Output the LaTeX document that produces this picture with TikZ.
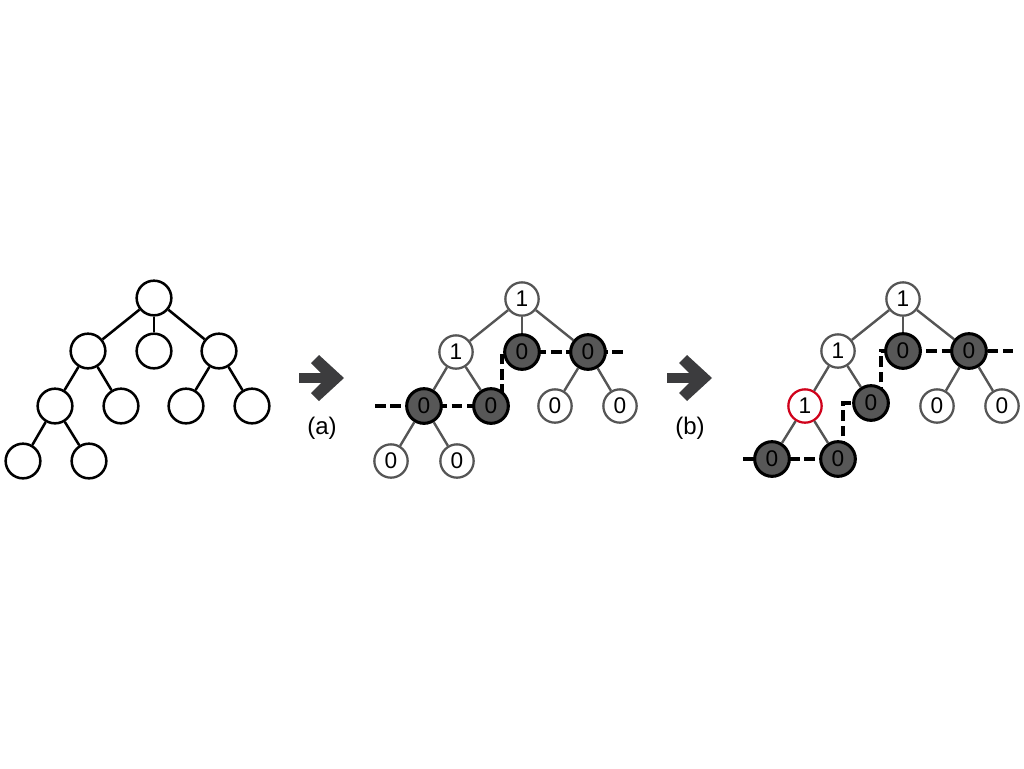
\documentclass[tikz,border=0pt]{standalone}
\usepackage{fontspec}
\setmainfont{Liberation Sans}
\usetikzlibrary{backgrounds}
\definecolor{edgegray}{HTML}{555555}
\definecolor{fillgray}{HTML}{575757}
\definecolor{arrowgray}{HTML}{3C3C3E}
\definecolor{flipred}{HTML}{D0021B}

\begin{document}
\begin{tikzpicture}[x=0.75pt, y=-0.75pt,
  knot/.style={circle, draw, line width=1.9pt, minimum size=26pt, inner sep=0pt},
  wnode/.style={circle, draw=edgegray, fill=white, line width=1.7pt, minimum size=25pt, inner sep=0pt, font=\fontsize{17}{17}\selectfont},
  gnode/.style={wnode, draw=black, fill=fillgray, line width=2.3pt, minimum size=26pt},
  rnode/.style={wnode, draw=flipred},
  branch/.style={draw=edgegray, line width=1.8pt},
  cutline/.style={draw=black, line width=2.6pt, dash pattern=on 8pt off 3.5pt},
  tag/.style={font=\fontsize{18}{18}\selectfont}]
\useasboundingbox (0,0) rectangle (1024,768);

% input tree
\node (a1) at (154,298) [knot] {};
\node (a2) at (88,351) [knot] {};
\node (a3) at (154,351) [knot] {};
\node (a4) at (219,351) [knot] {};
\node (a5) at (55,406) [knot] {};
\node (a6) at (121,406) [knot] {};
\node (a7) at (186,406) [knot] {};
\node (a8) at (252,406) [knot] {};
\node (a9) at (23,461) [knot] {};
\node (a10) at (89,461) [knot] {};
\draw [line width=1.9pt] (a1) -- (a2);
\draw [line width=1.9pt] (a1) -- (a3);
\draw [line width=1.9pt] (a1) -- (a4);
\draw [line width=1.9pt] (a2) -- (a5);
\draw [line width=1.9pt] (a2) -- (a6);
\draw [line width=1.9pt] (a4) -- (a7);
\draw [line width=1.9pt] (a4) -- (a8);
\draw [line width=1.9pt] (a5) -- (a9);
\draw [line width=1.9pt] (a5) -- (a10);

% step (a)
\fill [arrowgray] (299,373) -- (329,373) -- (329,383) -- (299,383) -- cycle;
\fill [arrowgray] (311,363) -- (319,355) -- (344,378) -- (319,401) -- (311,393) -- (326,378) -- cycle;
\node (sa) at (322,428) [tag] {(a)};

% first labelling
\node (b1) at (522,299) [wnode] {1};
\node (b2) at (456,352) [wnode] {1};
\node (b3) at (522,352) [gnode] {0};
\node (b4) at (588,352) [gnode] {0};
\node (b5) at (424,406) [gnode] {0};
\node (b6) at (491,406) [gnode] {0};
\node (b7) at (555,406) [wnode] {0};
\node (b8) at (620,406) [wnode] {0};
\node (b9) at (391,461) [wnode] {0};
\node (b10) at (457,461) [wnode] {0};
\draw [branch] (b1) -- (b2);
\draw [branch] (b1) -- (b3);
\draw [branch] (b1) -- (b4);
\draw [branch] (b2) -- (b5);
\draw [branch] (b2) -- (b6);
\draw [branch] (b4) -- (b7);
\draw [branch] (b4) -- (b8);
\draw [branch] (b5) -- (b9);
\draw [branch] (b5) -- (b10);
\coordinate (bl) at (375,406);
\coordinate (bk) at (502,352);
\coordinate (br) at (627,352);
\begin{scope}[on background layer]
\draw [cutline] (bl) -- (b5.center) -- (b6.center) -- (b6.center -| bk) -- (bk) -- (b3.center) -- (b4.center) -- (br);
\end{scope}

% step (b)
\fill [arrowgray] (667,373) -- (697,373) -- (697,383) -- (667,383) -- cycle;
\fill [arrowgray] (679,363) -- (687,355) -- (712,378) -- (687,401) -- (679,393) -- (694,378) -- cycle;
\node (sb) at (690,428) [tag] {(b)};

% second labelling
\node (c1) at (903,299) [wnode] {1};
\node (c2) at (838,351) [wnode] {1};
\node (c3) at (903,351) [gnode] {0};
\node (c4) at (969,351) [gnode] {0};
\node (c5) at (805,406) [rnode] {1};
\node (c6) at (871,403) [gnode] {0};
\node (c7) at (937,406) [wnode] {0};
\node (c8) at (1002,406) [wnode] {0};
\node (c9) at (772,459) [gnode] {0};
\node (c10) at (838,459) [gnode] {0};
\draw [branch] (c1) -- (c2);
\draw [branch] (c1) -- (c3);
\draw [branch] (c1) -- (c4);
\draw [branch] (c2) -- (c5);
\draw [branch] (c2) -- (c6);
\draw [branch] (c4) -- (c7);
\draw [branch] (c4) -- (c8);
\draw [branch] (c5) -- (c9);
\draw [branch] (c5) -- (c10);
\coordinate (cl) at (743,459);
\coordinate (ck) at (843,403);
\coordinate (cj) at (881,351);
\coordinate (cr) at (1013,351);
\begin{scope}[on background layer]
\draw [cutline] (cl) -- (c9.center) -- (c10.center) -- (c10.center -| ck) -- (ck) -- (c6.center) -- (c6.center -| cj) -- (cj) -- (c3.center) -- (c4.center) -- (cr);
\end{scope}
\end{tikzpicture}
\end{document}
